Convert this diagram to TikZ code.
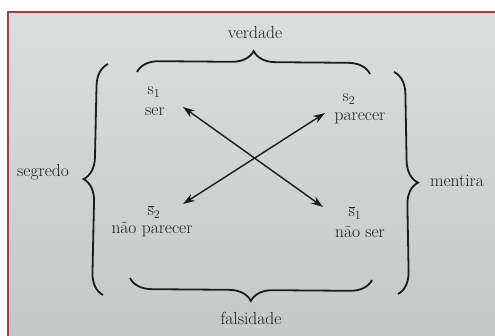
\documentclass[tikz,border=0pt]{standalone}
\usetikzlibrary{positioning,decorations.pathreplacing,arrows.meta}
\definecolor{ink}{RGB}{28,28,30}
\definecolor{framered}{RGB}{178,58,58}
\definecolor{pagetop}{RGB}{220,222,222}
\definecolor{pagebottom}{RGB}{198,200,200}
\begin{document}
\begin{tikzpicture}[x=1pt, y=-1pt]
\tikzstyle{lStyle}=[inner sep=0pt, outer sep=0pt, text=ink,
font=\fontsize{17.5}{19}\selectfont]
\tikzstyle{bStyle}=[decorate, decoration={brace, amplitude=22pt},
line width=1.8pt, draw=ink]
\tikzstyle{aStyle}=[{Stealth[length=12pt, width=8pt]}-{Stealth[length=12pt, width=8pt]},
line width=1.4pt, draw=ink]

\useasboundingbox (0,0) rectangle (495,336);
\fill[white] (0,0) rectangle (495,336);
\shade[top color=pagetop, bottom color=pagebottom] (8,12) rectangle (495,336);
\draw[line width=2pt, framered] (8,336) -- (8,12) -- (495,12);

% corners of the square
\node[lStyle] (s1) at (154,92) {$\mathrm{s}_1$};
\node[lStyle] (ser) at (155,112) {ser};
\node[lStyle] (s2) at (349,99) {$\mathrm{s}_2$};
\node[lStyle] (parecer) at (360,118) {parecer};
\node[lStyle] (ns2) at (154,212) {$\overline{\mathrm{s}}_2$};
\node[lStyle] (naoparecer) at (152,230) {não parecer};
\node[lStyle] (ns1) at (355,213) {$\overline{\mathrm{s}}_1$};
\node[lStyle] (naoser) at (360,232) {não ser};

% arrows
\coordinate (a1) at (183,107);
\coordinate (a2) at (323,207);
\coordinate (b1) at (325,113);
\coordinate (b2) at (183,204);
\draw[aStyle] (a1) -- (a2);
\draw[aStyle] (b1) -- (b2);

% braces
\coordinate (tl) at (137,72);
\coordinate (tr) at (370,74);
\coordinate (lb) at (103,295);
\coordinate (lt) at (108,64);
\coordinate (rt) at (394,72);
\coordinate (rb) at (398,294);
\coordinate (br) at (372,280);
\coordinate (bl) at (130,278);
\draw[bStyle] (tl) -- (tr);
\draw[bStyle] (lb) -- (lt);
\draw[bStyle] (rt) -- (rb);
\draw[bStyle] (br) -- (bl);

\node[lStyle] (verdade) at (255,33) {verdade};
\node[lStyle] (falsidade) at (251,318) {falsidade};
\node[lStyle] (segredo) at (43,172) {segredo};
\node[lStyle] (mentira) at (457,181) {mentira};
\end{tikzpicture}
\end{document}
